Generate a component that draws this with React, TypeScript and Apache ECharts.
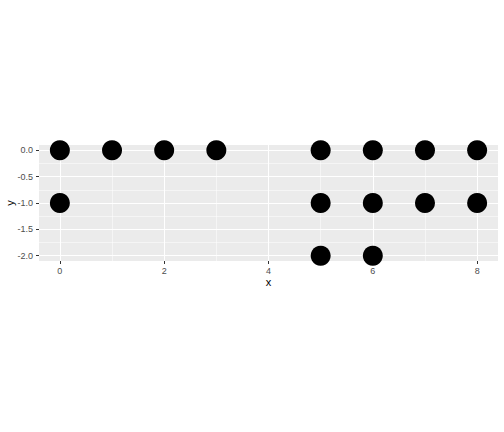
import React, { useEffect, useRef } from "react";
import * as echarts from "echarts";

const xs = [0, 1, 2, 3, 5, 6, 7, 8, 0, 5, 6, 7, 8, 5, 6];
const ys = [0, 0, 0, 0, 0, 0, 0, 0, -1, -1, -1, -1, -1, -2, -2];
const xMajor = [0, 2, 4, 6, 8];
const xMinor = [1, 3, 5, 7];
const yMajor = [0, -0.5, -1, -1.5, -2];
const yMinor = [-0.25, -0.75, -1.25, -1.75];

export default function App() {
  const ref = useRef<HTMLDivElement>(null);
  useEffect(() => {
    const chart = echarts.init(ref.current!, null, { renderer: "svg" });
    const font = "Liberation Sans, Arial, sans-serif";
    const lineItem = (key: string, v: number, w: number) => ({
      [key]: v,
      lineStyle: { color: "#ffffff", width: w, type: "solid" },
    });
    chart.setOption({
      animation: false,
      backgroundColor: "#ffffff",
      grid: {
        left: 39, right: 6, top: 145, bottom: 171,
        outerBoundsMode: "none", containLabel: false,
        show: true, backgroundColor: "#EBEBEB", borderWidth: 0,
      },
      xAxis: {
        type: "value",
        min: -0.4,
        max: 8.4,
        name: "x",
        nameLocation: "middle",
        nameGap: 15,
        nameMoveOverlap: false,
        nameTextStyle: { color: "#000", fontSize: 11, fontFamily: font },
        axisLine: { show: false, onZero: false },
        splitLine: { show: false },
        axisTick: { show: true, customValues: xMajor, length: 3, lineStyle: { color: "#333333", width: 1 } },
        axisLabel: { customValues: xMajor, color: "#4D4D4D", fontSize: 9, fontFamily: font, margin: 5, formatter: (v: number) => String(v) },
      },
      yAxis: {
        type: "value",
        min: -2.1,
        max: 0.1,
        name: "y",
        nameLocation: "middle",
        nameGap: 24,
        nameMoveOverlap: false,
        nameTextStyle: { color: "#000", fontSize: 11, fontFamily: font },
        axisLine: { show: false, onZero: false },
        splitLine: { show: false },
        axisTick: { show: true, customValues: yMajor, length: 3, lineStyle: { color: "#333333", width: 1 } },
        axisLabel: { customValues: yMajor, color: "#4D4D4D", fontSize: 9, fontFamily: font, margin: 6, formatter: (v: number) => v.toFixed(1) },
      },
      series: [
        {
          type: "scatter",
          data: [],
          silent: true,
          z: 0,
          markLine: {
            silent: true,
            z: 0,
            symbol: ["none", "none"],
            label: { show: false },
            animation: false,
            data: [
              ...xMinor.map((v) => lineItem("xAxis", v, 0.53)),
              ...yMinor.map((v) => lineItem("yAxis", v, 0.53)),
              ...xMajor.map((v) => lineItem("xAxis", v, 1.07)),
              ...yMajor.map((v) => lineItem("yAxis", v, 1.07)),
            ],
          },
        },
        {
          type: "scatter",
          symbolSize: 20,
          z: 10,
          itemStyle: { color: "#000000", opacity: 1 },
          data: xs.map((x, i) => [x, ys[i]]),
        },
      ],
    });
    return () => chart.dispose();
  }, []);
  return <div ref={ref} style={{ width: 504, height: 432, position: "absolute", left: 0, top: 0 }} />;
}
